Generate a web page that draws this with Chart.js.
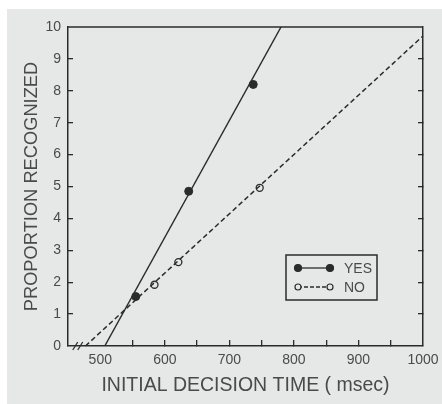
<!DOCTYPE html>
<html>
<head>
<meta charset="utf-8">
<script src="https://cdn.jsdelivr.net/npm/chart.js@4/dist/chart.umd.min.js"></script>
<style>
  html, body { margin: 0; padding: 0; background: #ffffff; }
  #wrap { width: 442px; height: 404px; }
</style>
</head>
<body>
<div id="wrap"><canvas id="chart" width="442" height="404"></canvas></div>
<script>
// measured points
const yesTime = [555, 637, 737];
const yesProp = [1.55, 4.85, 8.2];
const noTime = [584, 621, 747];
const noProp = [1.92, 2.63, 4.96];

// fitted lines (end points)
const yesFitTime = [507, 780];
const yesFitProp = [0, 10];
const noFitTime = [477, 1000];
const noFitProp = [0, 9.72];

const xTicks = [500, 600, 700, 800, 900, 1000];
const yTicks = [0, 1, 2, 3, 4, 5, 6, 7, 8, 9, 10];

const ink = '#2b2b2b';
const textInk = '#4a4a4a';
const paper = '#e6e8e7';
const fontFamily = '"Liberation Sans", Arial, sans-serif';

const toPoints = (xs, ys) => xs.map((x, i) => ({ x: x, y: ys[i] }));

// background, frame top, axis break and the boxed legend
const extras = {
  id: 'extras',
  beforeDraw(chart) {
    const ctx = chart.ctx;
    ctx.save();
    ctx.fillStyle = '#ffffff';
    ctx.fillRect(0, 0, chart.width, chart.height);
    ctx.fillStyle = paper;
    ctx.fillRect(7, 9, chart.width - 7, chart.height - 9);
    ctx.restore();
  },
  afterDraw(chart) {
    const ctx = chart.ctx;
    const area = chart.chartArea;
    const x = chart.scales.x;
    const y = chart.scales.y;
    ctx.save();
    ctx.strokeStyle = ink;
    ctx.lineWidth = 1.5;
    // top edge of the frame
    ctx.beginPath();
    ctx.moveTo(area.left, area.top);
    ctx.lineTo(area.right, area.top);
    ctx.stroke();

    // axis break "//"
    const bx = x.getPixelForValue(462);
    const by = y.getPixelForValue(0);
    ctx.lineWidth = 1.2;
    [0, 5].forEach(d => {
      ctx.beginPath();
      ctx.moveTo(bx + d - 3, by + 4);
      ctx.lineTo(bx + d + 2, by - 4);
      ctx.stroke();
    });

    // legend box
    const lx = 286, ly = 255, lw = 91, lh = 45;
    ctx.lineWidth = 1.5;
    ctx.strokeRect(lx, ly, lw, lh);
    const rows = [
      { label: 'YES', y: ly + 13, filled: true, dash: [] },
      { label: 'NO', y: ly + 32, filled: false, dash: [4, 2] }
    ];
    rows.forEach(r => {
      ctx.setLineDash(r.dash);
      ctx.lineWidth = 1.3;
      ctx.beginPath();
      ctx.moveTo(lx + 12, r.y);
      ctx.lineTo(lx + 44, r.y);
      ctx.stroke();
      ctx.setLineDash([]);
      [lx + 12, lx + 44].forEach(cx => {
        ctx.beginPath();
        ctx.arc(cx, r.y, r.filled ? 3.5 : 3, 0, Math.PI * 2);
        ctx.fillStyle = r.filled ? ink : paper;
        ctx.fill();
        ctx.lineWidth = 1.2;
        ctx.stroke();
      });
      ctx.fillStyle = textInk;
      ctx.font = '14px ' + fontFamily;
      ctx.textBaseline = 'middle';
      ctx.fillText(r.label, lx + 58, r.y + 1);
    });
    ctx.restore();
  }
};

const noPad = (scale) => {
  scale.paddingLeft = 0;
  scale.paddingRight = 0;
  scale.paddingTop = 0;
  scale.paddingBottom = 0;
};

new Chart(document.getElementById('chart').getContext('2d'), {
  type: 'scatter',
  data: {
    datasets: [
      {
        label: 'YES fit',
        data: toPoints(yesFitTime, yesFitProp),
        showLine: true,
        borderColor: ink,
        borderWidth: 1.5,
        pointRadius: 0
      },
      {
        label: 'NO fit',
        data: toPoints(noFitTime, noFitProp),
        showLine: true,
        borderColor: ink,
        borderWidth: 1.5,
        borderDash: [5, 3],
        pointRadius: 0
      },
      {
        label: 'YES',
        data: toPoints(yesTime, yesProp),
        showLine: false,
        pointRadius: 4,
        pointBackgroundColor: ink,
        pointBorderColor: ink,
        pointBorderWidth: 1
      },
      {
        label: 'NO',
        data: toPoints(noTime, noProp),
        showLine: false,
        pointRadius: 3.5,
        pointBackgroundColor: paper,
        pointBorderColor: ink,
        pointBorderWidth: 1.3
      }
    ]
  },
  options: {
    responsive: false,
    animation: false,
    clip: false,
    layout: { padding: { left: 0, right: 19, top: 27, bottom: 0 }, autoPadding: false },
    plugins: {
      legend: { display: false },
      tooltip: { enabled: false }
    },
    scales: {
      x: {
        type: 'linear',
        position: 'bottom',
        min: 450,
        max: 1000,
        afterBuildTicks: (scale) => {
          const t = [];
          for (let v = 450; v <= 1000; v += 50) t.push({ value: v });
          scale.ticks = t;
        },
        afterFit: (scale) => { scale.height = 58; noPad(scale); },
        ticks: {
          autoSkip: false,
          maxRotation: 0,
          padding: 12,
          color: textInk,
          font: { family: fontFamily, size: 14 },
          callback: (v) => xTicks.includes(v) ? String(v) : ''
        },
        grid: {
          drawOnChartArea: false,
          drawTicks: true,
          tickLength: -6,
          lineWidth: 1.3,
          color: (c) => (c.tick && [450, 500, 1000].includes(c.tick.value)) ? 'rgba(0,0,0,0)' : ink
        },
        border: { display: true, color: ink, width: 1.5 },
        title: {
          display: true,
          text: 'INITIAL DECISION TIME ( msec)',
          color: textInk,
          font: { family: fontFamily, size: 19.5 },
          padding: { top: 0, bottom: 7 }
        }
      },
      y: {
        type: 'linear',
        position: 'left',
        min: 0,
        max: 10,
        afterBuildTicks: (scale) => { scale.ticks = yTicks.map(v => ({ value: v })); },
        afterFit: (scale) => { scale.width = 68; noPad(scale); },
        ticks: {
          padding: 12,
          color: textInk,
          font: { family: fontFamily, size: 14 }
        },
        grid: {
          drawOnChartArea: false,
          drawTicks: true,
          tickLength: -5,
          lineWidth: 1.3,
          color: (c) => (c.tick && (c.tick.value === 0 || c.tick.value === 10)) ? 'rgba(0,0,0,0)' : ink
        },
        border: { display: true, color: ink, width: 1.5 },
        title: {
          display: true,
          text: 'PROPORTION RECOGNIZED',
          color: textInk,
          font: { family: fontFamily, size: 18.3 },
          padding: { top: 21, bottom: 0 }
        }
      },
      y2: {
        type: 'linear',
        position: 'right',
        min: 0,
        max: 10,
        afterBuildTicks: (scale) => { scale.ticks = yTicks.map(v => ({ value: v })); },
        afterFit: (scale) => { scale.width = 0; noPad(scale); },
        ticks: { display: false },
        grid: {
          drawOnChartArea: false,
          drawTicks: true,
          tickLength: -5,
          lineWidth: 1.3,
          color: (c) => (c.tick && (c.tick.value === 0 || c.tick.value === 10)) ? 'rgba(0,0,0,0)' : ink
        },
        border: { display: true, color: ink, width: 1.5 }
      }
    }
  },
  plugins: [extras]
});
</script>
</body>
</html>
